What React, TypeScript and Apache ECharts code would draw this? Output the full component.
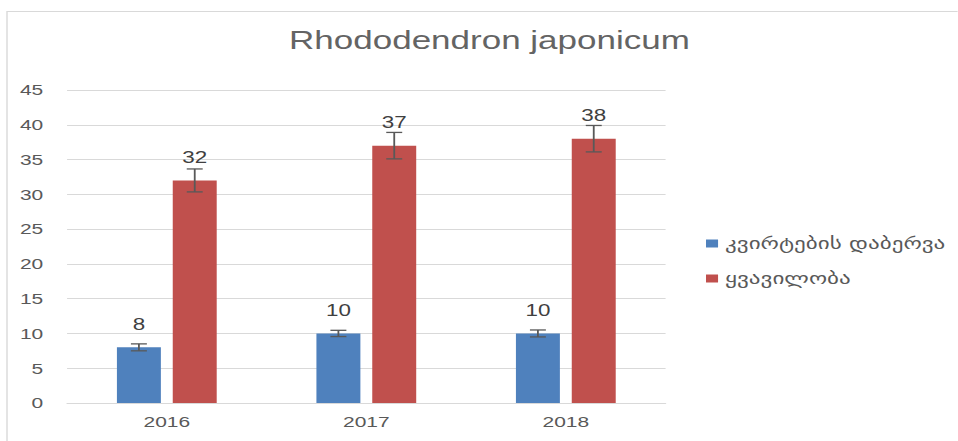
import React, { useEffect, useRef } from "react";
import * as echarts from "echarts";

const categories = ["2016", "2017", "2018"];
const seriesNames = ["კვირტების დაბერვა", "ყვავილობა"];
const budValues = [8, 10, 10];
const budErrors = [0.5, 0.45, 0.5];
const flowerValues = [32, 37, 38];
const flowerErrors = [1.65, 1.9, 1.9];
const yTicks = { min: 0, max: 45, interval: 5 };

const S = 1.4; // horizontal stretch of the reference picture
const W = 958;
const H = 441;
const IW = W / S;
const BAR_W = 31.4;
const GAP_RATIO = 0.27;
const OFFSET = (BAR_W + BAR_W * GAP_RATIO) / 2;
const CAP = 11.4;

function errorSeries(values: number[], errors: number[], offset: number) {
  return {
    type: "custom",
    silent: true,
    z: 5,
    encode: { x: 0, y: [1, 2] },
    data: values.map((v, i) => [i, v - errors[i], v + errors[i]]),
    renderItem: (params: any, api: any) => {
      const idx = api.value(0);
      const lo = api.coord([idx, api.value(1)]);
      const hi = api.coord([idx, api.value(2)]);
      const x = lo[0] + offset;
      const style = { stroke: "#595959", lineWidth: 1.3 };
      const hw = CAP / 2;
      return {
        type: "group",
        children: [
          { type: "line", shape: { x1: x, y1: lo[1], x2: x, y2: hi[1] }, style },
          { type: "line", shape: { x1: x - hw, y1: hi[1], x2: x + hw, y2: hi[1] }, style },
          { type: "line", shape: { x1: x - hw, y1: lo[1], x2: x + hw, y2: lo[1] }, style },
        ],
      };
    },
  };
}

export default function App() {
  const ref = useRef<HTMLDivElement>(null);
  useEffect(() => {
    if (!ref.current) return;
    const chart = echarts.init(ref.current, undefined, { renderer: "svg" });
    const labelStyle = {
      show: true,
      position: "top",
      distance: 15,
      fontSize: 16,
      color: "#404040",
      fontFamily: "Liberation Sans",
    };
    chart.setOption({
      animation: false,
      backgroundColor: "#ffffff",
      title: {
        text: "Rhododendron japonicum",
        left: 344.6,
        top: 22,
        textAlign: "center",
        textStyle: {
          fontSize: 25,
          fontWeight: "normal",
          color: "#646464",
          fontFamily: "Liberation Sans",
        },
      },
      graphic: [
        {
          type: "rect",
          shape: { x: 5, y: 11.5, width: 900, height: 600 },
          style: { fill: "none", stroke: "#d9d9d9", lineWidth: 1 },
          silent: true,
          z: -1,
        },
      ],
      legend: {
        orient: "vertical",
        left: 499.3,
        top: 230,
        itemWidth: 8.6,
        itemHeight: 8,
        itemGap: 18,
        icon: "rect",
        data: seriesNames,
        textStyle: { fontSize: 16.5, color: "#595959", fontFamily: "DejaVu Sans" },
      },
      grid: { left: 47.9, right: IW - 475.7, top: 90, bottom: 38 },
      xAxis: {
        type: "category",
        data: categories,
        axisTick: { show: false },
        axisLine: { lineStyle: { color: "#d9d9d9" } },
        axisLabel: {
          fontSize: 15,
          color: "#595959",
          margin: 11,
          fontFamily: "Liberation Sans",
        },
      },
      yAxis: {
        type: "value",
        min: yTicks.min,
        max: yTicks.max,
        interval: yTicks.interval,
        axisLine: { show: false },
        axisTick: { show: false },
        splitLine: { lineStyle: { color: "#d9d9d9" } },
        axisLabel: {
          fontSize: 15,
          color: "#595959",
          margin: 17,
          fontFamily: "Liberation Sans",
        },
      },
      series: [
        {
          name: seriesNames[0],
          type: "bar",
          data: budValues,
          barWidth: BAR_W,
          barGap: GAP_RATIO * 100 + "%",
          itemStyle: { color: "#4F81BD" },
          label: labelStyle,
        },
        {
          name: seriesNames[1],
          type: "bar",
          data: flowerValues,
          barWidth: BAR_W,
          barGap: GAP_RATIO * 100 + "%",
          itemStyle: { color: "#C0504D" },
          label: labelStyle,
        },
        errorSeries(budValues, budErrors, -OFFSET),
        errorSeries(flowerValues, flowerErrors, OFFSET),
      ],
    });
    return () => chart.dispose();
  }, []);
  return (
    <div
      style={{
        position: "fixed",
        left: 0,
        top: 0,
        width: W,
        height: H,
        overflow: "hidden",
        background: "#fff",
      }}
    >
      <div
        ref={ref}
        style={{
          width: IW,
          height: H,
          transform: `scaleX(${S})`,
          transformOrigin: "0 0",
        }}
      />
    </div>
  );
}
